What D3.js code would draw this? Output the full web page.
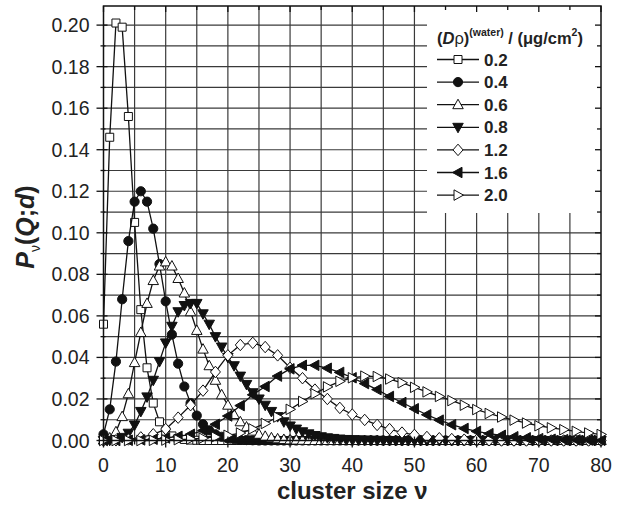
<!DOCTYPE html>
<html><head><meta charset="utf-8">
<script src="https://cdn.jsdelivr.net/npm/d3@7"></script>
<style>body{margin:0;background:#fff} svg{display:block;font-family:"Liberation Sans",Arial,Helvetica,sans-serif}</style>
</head><body><svg id="c" width="632" height="507"></svg>
<script>
// cluster sizes (x grids)
const nuEvery = d3.range(0, 81, 1);
const nuEven = d3.range(0, 81, 2);
const seriesNames = ["0.2","0.4","0.6","0.8","1.2","1.6","2.0"];
const xTicks = [0,10,20,30,40,50,60,70,80];
const yTicks = [0.00,0.02,0.04,0.06,0.08,0.10,0.12,0.14,0.16,0.18,0.20];

const s02 = [0.056,0.146,0.201,0.199,0.156,0.105,0.063,0.035,0.018,0.009,0.0045,0.0022,0.001,0.0005,0.0002,0.0001,
 0,0,0,0,0,0,0,0,0,0,
 0,0,0,0,0,0,0,0,0,0,
 0,0,0,0,0,0,0,0,0,0,
 0,0,0,0,0,0,0,0,0,0,
 0,0,0,0,0,0,0,0,0,0,
 0,0,0,0,0,0,0,0,0,0,
 0,0,0,0,0];
const s04 = [0.003,0.015,0.038,0.068,0.096,0.115,0.120,0.115,0.102,0.085,0.067,0.051,0.037,0.026,0.018,0.012,0.0078,0.0049,0.003,0.0018,0.001,0.0006,0.0003,0.0002,0.0001,
 0,0,0,0,0,0,0,0,0,0,
 0,0,0,0,0,0,0,0,0,0,
 0,0,0,0,0,0,0,0,0,0,
 0,0,0,0,0,0,0,0,0,0,
 0,0,0,0,0,0,0,0,0,0,
 0,0,0,0,0,0];
const s06 = [0.0002,0.0012,0.0042,0.0115,0.0225,0.0375,0.052,0.066,0.077,0.084,0.086,0.084,0.078,0.071,0.062,0.053,0.044,0.036,0.029,0.022,0.017,0.0125,0.009,0.0065,0.0045,0.003,0.002,0.0013,0.0008,0.0005,0.0003,0.0002,0.0001,
 0,0,0,0,0,0,0,0,0,0,
 0,0,0,0,0,0,0,0,0,0,
 0,0,0,0,0,0,0,0,0,0,
 0,0,0,0,0,0,0,0,0,0,
 0,0,0,0,0,0,0,0];
const s08 = [0,0.0001,0.0005,0.0015,0.0035,0.0075,0.014,0.021,0.029,0.038,0.047,0.055,0.062,0.065,0.066,0.066,0.061,0.056,0.050,0.045,0.040,0.036,0.031,0.027,0.023,0.020,0.017,0.014,0.0115,0.009,0.007,0.0055,0.0042,0.0032,0.0024,0.0018,0.0013,0.001,0.0007,0.0005,0.0004,0.0003,0.0002,0.0001,0.0001,
 0,0,0,0,0,0,0,0,0,0,
 0,0,0,0,0,0,0,0,0,0,
 0,0,0,0,0,0,0,0,0,0,
 0,0,0,0,0,0];
const s12 = [0,0.0001,0.0005,0.0015,0.003,0.0055,0.011,0.017,0.024,0.033,0.041,0.046,0.047,0.045,0.041,0.035,0.030,0.0245,0.020,0.0157,0.0125,0.0099,0.0075,0.0055,0.0038,0.0027,0.0017,0.0011,0.0007,0.0004,0.0002,0.0001,0,0,0,0,0,0,0,0,0];
const s16 = [0,0,0.0001,0.0003,0.0006,0.0012,0.002,0.003,0.0048,0.0078,0.0118,0.0168,0.022,0.026,0.031,0.0345,0.0362,0.0362,0.0348,0.0328,0.0302,0.0274,0.0245,0.0212,0.0183,0.0153,0.0124,0.0098,0.0076,0.0058,0.0044,0.0033,0.0025,0.0018,0.0013,0.0009,0.0006,0.0004,0.0003,0.0002,0.0001];
const s20 = [0,0,0,0,0.0001,0.0002,0.0004,0.0007,0.0011,0.0017,0.0025,0.0036,0.0056,0.0082,0.0113,0.015,0.0188,0.0225,0.0258,0.0285,0.0302,0.031,0.0308,0.0296,0.0278,0.0256,0.0234,0.0212,0.0192,0.017,0.0149,0.013,0.0113,0.0098,0.0084,0.0071,0.0061,0.0052,0.0044,0.0036,0.0029];

const seriesX = [nuEvery,nuEvery,nuEvery,nuEvery,nuEven,nuEven,nuEven];
const seriesY = [s02,s04,s06,s08,s12,s16,s20];
const markers = ["square","circle","triUp","triDown","diamond","triLeft","triRight"];
const filled = [false,true,false,true,false,true,false];

const svg = d3.select("#c");
const L=103.5, R=601, T=6, B=440.5;
const x = d3.scaleLinear().domain([0,80]).range([L,R]);
const y = d3.scaleLinear().domain([0,0.2092]).range([B,T]);

// grid
const g = svg.append("g");
g.selectAll(".vg").data(d3.range(5,80,5)).join("line")
 .attr("x1",d=>x(d)).attr("x2",d=>x(d)).attr("y1",T).attr("y2",B)
 .attr("stroke","#3a3a3a").attr("stroke-width",1.2);
g.selectAll(".hg").data(d3.range(1,21).map(i=>i/100)).join("line")
 .attr("x1",L).attr("x2",R).attr("y1",d=>y(d)).attr("y2",d=>y(d))
 .attr("stroke","#3a3a3a").attr("stroke-width",1.2);

// legend background
svg.append("rect").attr("x",427).attr("y",T).attr("width",R-427).attr("height",213-T).attr("fill","#fff");

function markerPath(type, s){
  const h=s/2;
  switch(type){
    case "square": return `M${-h},${-h}H${h}V${h}H${-h}Z`;
    case "triUp": return `M0,${-h*1.1}L${h*1.05},${h*0.8}L${-h*1.05},${h*0.8}Z`;
    case "triDown": return `M0,${h*1.1}L${h*1.05},${-h*0.8}L${-h*1.05},${-h*0.8}Z`;
    case "triLeft": return `M${-h*1.1},0L${h*0.8},${-h*1.05}L${h*0.8},${h*1.05}Z`;
    case "triRight": return `M${h*1.1},0L${-h*0.8},${-h*1.05}L${-h*0.8},${h*1.05}Z`;
    case "diamond": return `M0,${-h*1.15}L${h*1.0},0L0,${h*1.15}L${-h*1.0},0Z`;
  }
}
function drawMarker(sel, type, fill, cx, cy){
  if(type==="circle"){
    sel.append("circle").attr("cx",cx).attr("cy",cy).attr("r",4.6)
      .attr("fill",fill?"#111":"#fff").attr("stroke","#111").attr("stroke-width",1);
  } else {
    const s = type==="square"?8:10;
    sel.append("path").attr("d",markerPath(type,s)).attr("transform",`translate(${cx},${cy})`)
      .attr("fill",fill?"#111":"#fff").attr("stroke","#111").attr("stroke-width",1);
  }
}

const line = d3.line().x(d=>x(d[0])).y(d=>y(d[1]));
seriesY.forEach((vals,i)=>{
  const pts = seriesX[i].map((v,j)=>[v,vals[j]]).filter(p=>p[1]!=null);
  const sg = svg.append("g");
  sg.append("path").datum(pts).attr("d",line).attr("fill","none").attr("stroke","#111").attr("stroke-width",1.3);
  pts.forEach(p=>drawMarker(sg, markers[i], filled[i], x(p[0]), y(p[1])));
});

// frame
svg.append("rect").attr("x",L).attr("y",T).attr("width",R-L).attr("height",B-T)
 .attr("fill","none").attr("stroke","#111").attr("stroke-width",1.5);

// axes
const ax = svg.append("g");
const yAll = d3.range(0,21).map(i=>i/100);
const isMajY = d=>Math.round(d*100)%2===0;
ax.selectAll(".lt").data(yAll).join("line")
 .attr("x1",d=>L-(isMajY(d)?7:3)).attr("x2",d=>L+(isMajY(d)?4:2))
 .attr("y1",d=>y(d)).attr("y2",d=>y(d)).attr("stroke","#111").attr("stroke-width",1.3);
ax.selectAll(".rt").data(yAll).join("line")
 .attr("x1",R).attr("x2",d=>R-(isMajY(d)?6:4))
 .attr("y1",d=>y(d)).attr("y2",d=>y(d)).attr("stroke","#111").attr("stroke-width",1.3);
ax.selectAll(".bt").data(d3.range(0,81,5)).join("line")
 .attr("x1",d=>x(d)).attr("x2",d=>x(d)).attr("y1",d=>B-(d%10===0?4:2)).attr("y2",d=>B+(d%10===0?7:4))
 .attr("stroke","#111").attr("stroke-width",1.3);
ax.selectAll(".tt").data(d3.range(0,81,5)).join("line")
 .attr("x1",d=>x(d)).attr("x2",d=>x(d)).attr("y1",T).attr("y2",d=>T+(d%10===0?6:4))
 .attr("stroke","#111").attr("stroke-width",1.3);

ax.selectAll(".yl").data(yTicks).join("text")
 .attr("x",L-14).attr("y",d=>y(d)).attr("dy","0.36em").attr("text-anchor","end")
 .attr("font-size",19.5).attr("fill","#222").text(d=>d.toFixed(2));
ax.selectAll(".xl").data(xTicks).join("text")
 .attr("x",d=>x(d)).attr("y",B+31.5).attr("text-anchor","middle")
 .attr("font-size",19.5).attr("fill","#222").text(d=>d);

// axis titles
svg.append("text").attr("x",(L+R)/2).attr("y",499).attr("text-anchor","middle")
 .attr("font-size",24).attr("font-weight","bold").attr("fill","#222").text("cluster size ν");
const yt = svg.append("text").attr("transform","translate(34,227) rotate(-90)").attr("text-anchor","middle")
 .attr("font-size",25).attr("font-weight","bold").attr("fill","#222");
yt.append("tspan").attr("font-style","italic").text("P");
yt.append("tspan").attr("font-size",14).attr("font-weight","normal").attr("dy",6).text("ν");
yt.append("tspan").attr("dy",-6).text("(");
yt.append("tspan").attr("font-style","italic").text("Q");
yt.append("tspan").text(";");
yt.append("tspan").attr("font-style","italic").text("d");
yt.append("tspan").text(")");

// legend
const lg = svg.append("g");
const lt = lg.append("text").attr("x",437).attr("y",44).attr("font-size",16.5).attr("font-weight","bold").attr("fill","#222");
lt.append("tspan").text("(");
lt.append("tspan").attr("font-style","italic").text("D");
lt.append("tspan").attr("font-weight","normal").text("ρ");
lt.append("tspan").text(")");
lt.append("tspan").attr("font-size",10.5).attr("dy",-8).text("(water)");
lt.append("tspan").attr("dy",8).text(" / (μg/cm");
lt.append("tspan").attr("font-size",10.5).attr("dy",-8).text("2");
lt.append("tspan").attr("dy",8).text(")");
seriesNames.forEach((nm,i)=>{
  const yy = 59.5 + i*22.6;
  lg.append("line").attr("x1",437).attr("x2",479).attr("y1",yy).attr("y2",yy).attr("stroke","#111").attr("stroke-width",1.3);
  drawMarker(lg, markers[i], filled[i], 458, yy);
  lg.append("text").attr("x",484).attr("y",yy).attr("dy","0.36em").attr("font-size",17).attr("font-weight","bold").attr("fill","#222").text(nm);
});
</script></body></html>
